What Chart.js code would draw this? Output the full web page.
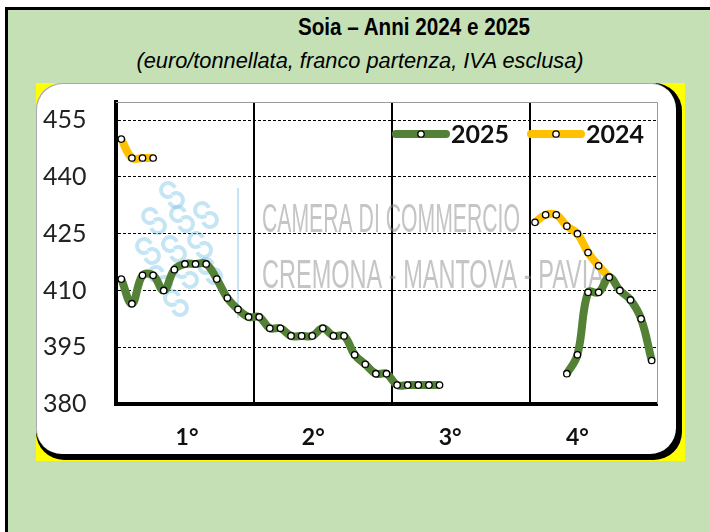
<!DOCTYPE html>
<html>
<head>
<meta charset="utf-8">
<script src="https://cdn.jsdelivr.net/npm/chart.js@4.4.1/dist/chart.umd.min.js"></script>
<style>
html,body{margin:0;padding:0;width:710px;height:532px;overflow:hidden;background:#fff}
#frame{position:absolute;left:5px;top:7px;width:705px;height:525px;border-left:3px solid #000;border-top:3px solid #000;background:#c5e0b4}
.t{position:absolute;white-space:nowrap;text-align:center;color:#000;font-family:"Liberation Sans",Arial,sans-serif;transform-origin:50% 50%}
#title{left:214px;width:400px;top:13px;font-size:24px;font-weight:bold;transform:scaleX(0.86)}
#sub{left:110px;width:500px;top:48px;font-size:22px;font-style:italic;transform:scaleX(0.99)}
#yellow{position:absolute;left:36px;top:83px;width:649px;height:378px;background:#ffff00}
#shadow{position:absolute;left:36px;top:83px;width:646px;height:377px;background:#000;border-radius:28px}
#panel{position:absolute;left:36px;top:83px;width:640px;height:371px;background:#fff;border-radius:26px;box-shadow:inset 1px 1px 0 #aaa}
#chart{position:absolute;left:36px;top:83px}
</style>
</head>
<body>
<div id="frame"></div>
<div class="t" id="title">Soia – Anni 2024 e 2025</div>
<div class="t" id="sub">(euro/tonnellata, franco partenza, IVA esclusa)</div>
<div id="yellow"></div>
<div id="shadow"></div>
<div id="panel"></div>
<canvas id="chart" width="645" height="375"></canvas>
<script>
// settimane dell'anno
const weeks = [1,2,3,4,5,6,7,8,9,10,11,12,13,14,15,16,17,18,19,20,21,22,23,24,25,26,
  27,28,29,30,31,32,33,34,35,36,37,38,39,40,41,42,43,44,45,46,47,48,49,50,51]

const soia2025 = [413,406.5,414,414,410,415.5,417,417,417,413,408,405,403,
  403,400,400,398,398,398,400,398,398,393,390.5,388,388,
  385,385,385,385,385,null,null,null,null,null,null,null,null,null,
  null,null,388,393,409.5,409.5,413.5,410,407.5,402.5,391.5]

const soia2024 = [450,445,445,445,null,null,null,null,null,null,null,null,null,
  null,null,null,null,null,null,null,null,null,null,null,null,null,
  null,null,null,null,null,null,null,null,null,null,null,null,null,
  428,430,430,427,425,420,416.5,413.5,null,null,null,null]

const seriesNames = ['2025','2024']
const quarterLabels = ['1°','2°','3°','4°']
const yTicks = [380,395,410,425,440,455]

const quarterLines = [13.5,26.5,39.5]
const quarterLabelAt = [7.2,19.1,32,44]

const toPoints = arr => arr.map((v,i) => ({x: weeks[i], y: v}))

// logo e scritta in trasparenza
const watermark = {
  id:'watermark',
  beforeDatasetsDraw(c){
    const ctx = c.ctx, a = c.chartArea
    ctx.save()
    ctx.fillStyle = 'rgba(140,140,140,0.5)'
    ctx.font = '40px "Liberation Sans",sans-serif'
    ctx.textBaseline = 'alphabetic'
    ctx.fillText('CAMERA DI COMMERCIO', a.left+146, a.top+130, 258)
    ctx.fillText('CREMONA - MANTOVA - PAVIA', a.left+146, a.top+186, 342)
    ctx.strokeStyle = 'rgba(110,190,230,0.4)'
    ctx.lineWidth = 2
    ctx.beginPath()
    ctx.moveTo(a.left+122, a.top+86)
    ctx.lineTo(a.left+122, a.top+216)
    ctx.stroke()
    ctx.lineWidth = 4
    const sw = [[56,92],[38,118],[66,116],[90,112],[32,148],[58,146],[84,142],[44,176],[70,172],[94,168],[60,200]]
    sw.forEach(([x,y]) => {
      ctx.beginPath()
      ctx.arc(a.left+x-4, a.top+y-4, 7, Math.PI*0.3, Math.PI*1.9)
      ctx.stroke()
      ctx.beginPath()
      ctx.arc(a.left+x+4, a.top+y+6, 7, Math.PI*1.3, Math.PI*0.9)
      ctx.stroke()
    })
    ctx.restore()
  },
  afterDraw(c){
    const ctx = c.ctx, a = c.chartArea
    ctx.save()
    ctx.strokeStyle = '#999'
    ctx.lineWidth = 1
    ctx.beginPath()
    ctx.moveTo(a.left, a.top+0.5)
    ctx.lineTo(a.right+0.5, a.top+0.5)
    ctx.lineTo(a.right+0.5, a.bottom)
    ctx.stroke()
    ctx.restore()
  }
}

// legenda dentro l'area del grafico
const legendBox = {
  id:'legendBox',
  afterDatasetsDraw(c){
    const ctx = c.ctx, a = c.chartArea
    ctx.save()
    ctx.font = 'bold 25px Lato, sans-serif'
    ctx.textBaseline = 'middle'
    let x = a.left+277
    const y = a.top+32
    c.data.datasets.forEach(ds => {
      ctx.strokeStyle = ds.borderColor
      ctx.lineWidth = 8
      ctx.lineCap = 'round'
      ctx.beginPath()
      ctx.moveTo(x+3, y)
      ctx.lineTo(x+53, y)
      ctx.stroke()
      ctx.beginPath()
      ctx.arc(x+28, y, 3.2, 0, Math.PI*2)
      ctx.fillStyle = '#fff'
      ctx.fill()
      ctx.lineWidth = 1.3
      ctx.strokeStyle = '#000'
      ctx.stroke()
      ctx.fillStyle = '#111'
      ctx.fillText(ds.label, x+58, y+1)
      x += 58 + ctx.measureText(ds.label).width + 19
    })
    ctx.restore()
  }
}

new Chart(document.getElementById('chart'), {
  type:'line',
  data:{
    datasets:[
      {label:seriesNames[0], data:toPoints(soia2025), borderColor:'#538135', borderWidth:8,
       pointRadius:3.2, pointBackgroundColor:'#fff', pointBorderColor:'#000', pointBorderWidth:1.3, tension:0.4},
      {label:seriesNames[1], data:toPoints(soia2024), borderColor:'#ffc000', borderWidth:8,
       pointRadius:3.2, pointBackgroundColor:'#fff', pointBorderColor:'#000', pointBorderWidth:1.3, tension:0.4}
    ]
  },
  options:{
    responsive:false,
    animation:false,
    layout:{padding:{left:7, top:19, right:24, bottom:0}},
    plugins:{legend:{display:false}, tooltip:{enabled:false}},
    scales:{
      x:{
        type:'linear', min:0.5, max:51.5,
        afterFit(s){ s.height = 54 },
        afterBuildTicks(s){
          s.ticks = quarterLines.map(v => ({value:v})).concat(quarterLabelAt.map(v => ({value:v})))
          s.ticks.sort((p,q) => p.value-q.value)
        },
        grid:{
          drawTicks:false,
          color: ctx => quarterLines.includes(ctx.tick && ctx.tick.value) ? '#000' : 'rgba(0,0,0,0)',
          lineWidth:2
        },
        border:{color:'#000', width:4},
        ticks:{
          autoSkip:false, maxRotation:0, padding:20, color:'#111',
          font:{family:'Lato', size:23, weight:'bold'},
          callback: v => { const i = quarterLabelAt.indexOf(v); return i < 0 ? '' : quarterLabels[i] }
        }
      },
      y:{
        min:380, max:459.8,
        afterFit(s){ s.width = 73 },
        afterBuildTicks(s){ s.ticks = yTicks.map(v => ({value:v})) },
        grid:{drawTicks:false, color:'#000', lineWidth:1},
        border:{color:'#000', width:4, dash:[3,2]},
        ticks:{padding:0, crossAlign:'far', color:'#222', font:{family:'Lato', size:25}}
      }
    }
  },
  plugins:[watermark, legendBox]
})
</script>
</body>
</html>
